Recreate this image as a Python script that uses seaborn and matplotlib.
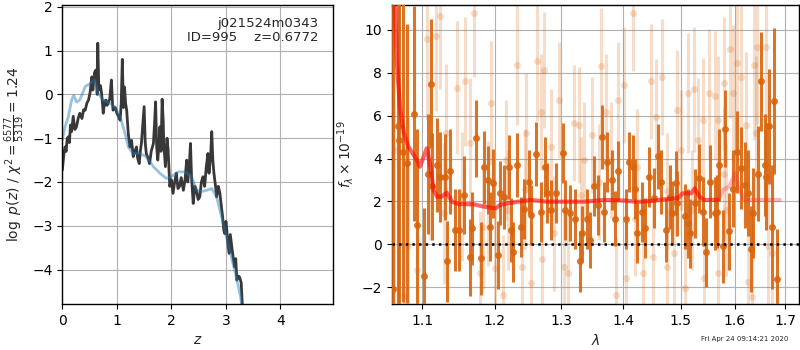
import matplotlib
matplotlib.use("Agg")
import matplotlib.pyplot as plt
from matplotlib.ticker import FixedLocator, FixedFormatter, NullLocator
import seaborn as sns

# p(z) curves
z_pz = [0.0, 0.03, 0.05, 0.07, 0.09, 0.11, 0.13, 0.15, 0.17, 0.2, 0.23, 0.26, 0.29,
        0.32, 0.36, 0.39, 0.42, 0.45, 0.48, 0.51, 0.54, 0.56, 0.59, 0.62, 0.64, 0.65,
        0.67, 0.7, 0.72, 0.74, 0.75, 0.78, 0.8, 0.82, 0.84, 0.87, 0.9, 0.92, 0.93, 0.97,
        1.0, 1.03, 1.06, 1.08, 1.1, 1.12, 1.14, 1.16, 1.18, 1.21, 1.24, 1.27, 1.3, 1.33,
        1.36, 1.38, 1.41, 1.43, 1.45, 1.48, 1.5, 1.52, 1.54, 1.57, 1.6, 1.63, 1.67, 1.69,
        1.71, 1.73, 1.75, 1.77, 1.79, 1.81, 1.83, 1.85, 1.86, 1.89, 1.92, 1.94, 1.97,
        2.0, 2.03, 2.06, 2.09, 2.12, 2.15, 2.18, 2.22, 2.25, 2.28, 2.3, 2.33, 2.35, 2.37,
        2.4, 2.43, 2.46, 2.49, 2.52, 2.55, 2.58, 2.61, 2.64, 2.67, 2.69, 2.72, 2.74,
        2.76, 2.78, 2.81, 2.83, 2.86, 2.89, 2.92, 2.94, 2.96, 2.98, 3.0, 3.01, 3.04,
        3.06, 3.08, 3.1, 3.13, 3.16, 3.18, 3.2, 3.23, 3.25, 3.28, 3.3, 3.32]
logp_pz = [-1.73, -1.35, -1.2, -1.3, -1.0, -0.97, -1.1, -0.7, -0.85, -0.5, -0.8, -0.74,
           -0.55, -0.43, -0.55, -0.35, -0.36, -0.2, -0.13, 0.05, 0.4, 0.1, 0.5, 0.56,
           0.0, 1.17, 0.1, 0.2, 0.02, -0.25, -0.43, -0.15, -0.13, -0.25, -0.2, -0.1,
           0.33, -0.2, -0.36, -0.3, -0.43, -0.5, -0.59, -0.2, 0.8, -0.3, 0.17, -0.2,
           -0.36, -0.9, -1.2, -1.05, -1.42, -1.3, -1.2, -1.45, -1.58, -1.3, -1.12, -0.6,
           -0.28, -1.1, -1.35, -1.45, -1.58, -1.3, -1.12, -0.7, -0.17, -1.2, -1.5, -1.2,
           -0.74, -1.3, -0.11, -0.6, -1.12, -1.65, -1.0, -1.27, -2.1, -1.95, -2.26, -2.0,
           -1.8, -2.15, -2.1, -1.9, -2.19, -1.95, -1.5, -2.0, -1.6, -1.12, -1.9, -2.49,
           -2.1, -2.19, -2.4, -2.34, -2.0, -1.88, -2.1, -1.65, -1.35, -1.8, -1.4, -0.85,
           -1.5, -1.8, -2.1, -2.34, -2.1, -2.26, -2.6, -2.8, -3.1, -3.18, -2.9, -3.02,
           -3.45, -3.63, -3.2, -3.4, -3.7, -3.94, -3.75, -4.24, -4.15, -4.17, -4.3, -4.8,
           -5.5]

z_tpl = [0.0, 0.05, 0.11, 0.17, 0.21, 0.26, 0.32, 0.42, 0.51, 0.59, 0.66, 0.75, 0.87,
         0.96, 1.06, 1.15, 1.21, 1.3, 1.42, 1.54, 1.67, 1.79, 1.91, 2.0, 2.12, 2.25,
         2.37, 2.46, 2.55, 2.64, 2.74, 2.83, 2.92, 3.01, 3.1, 3.19, 3.27, 3.32]
logp_tpl = [-1.04, -0.74, -0.51, -0.13, -0.02, -0.17, -0.13, 0.18, 0.25, 0.33, 0.02,
            -0.13, -0.2, -0.28, -0.51, -0.89, -1.2, -1.35, -1.35, -1.42, -1.65, -1.8,
            -1.92, -1.88, -1.77, -1.77, -1.88, -2.19, -2.22, -2.19, -2.15, -2.34, -2.8,
            -3.25, -3.71, -4.17, -4.63, -5.2]

# spectrum, strong points
wave_a = [1.062, 1.068, 1.07, 1.075, 1.08, 1.089, 1.093, 1.103, 1.108, 1.112, 1.113,
          1.12, 1.124, 1.131, 1.133, 1.138, 1.144, 1.149, 1.156, 1.165, 1.168, 1.173,
          1.18, 1.184, 1.19, 1.193, 1.198, 1.204, 1.207, 1.213, 1.22, 1.223, 1.226,
          1.232, 1.238, 1.243, 1.25, 1.254, 1.261, 1.269, 1.274, 1.278, 1.284, 1.291,
          1.302, 1.306, 1.313, 1.321, 1.329, 1.332, 1.341, 1.345, 1.351, 1.359, 1.364,
          1.368, 1.373, 1.382, 1.386, 1.391, 1.404, 1.41, 1.416, 1.42, 1.424, 1.432,
          1.437, 1.444, 1.453, 1.46, 1.464, 1.473, 1.481, 1.485, 1.491, 1.494, 1.507,
          1.513, 1.516, 1.525, 1.534, 1.54, 1.546, 1.553, 1.562, 1.567, 1.571, 1.578,
          1.582, 1.59, 1.596, 1.605, 1.613, 1.62, 1.626, 1.631, 1.635, 1.645, 1.651,
          1.659, 1.662, 1.668, 1.673, 1.678, 1.684]
flux_a = [-2.1, 5.5, 4.87, 4.3, 3.78, 6.1, 0.9, -1.5, 3.3, 7.5, 2.7, 3.7, 3.15, 3.15,
          -0.8, 3.4, 0.67, 0.67, 2.3, -0.6, 0.75, 4.95, -0.65, 3.6, 3.0, 0.82, 2.85,
          -0.5, 2.4, 2.22, 3.6, 0.67, -0.37, 3.7, 0.82, 1.65, 2.92, 1.37, 4.2, 1.52,
          3.6, 2.4, 1.6, 2.4, 4.25, 1.6, 1.45, 1.2, -0.8, 0.51, 1.2, 0.2, 2.7, 1.84,
          5.0, 1.52, 3.86, 3.0, 1.2, 3.4, 1.2, 3.86, 3.6, 2.6, 0.51, 1.52, 0.75, 3.15,
          2.15, 4.1, 2.92, 0.67, 2.22, 1.45, 2.85, 1.91, 1.3, 0.98, 0.51, 1.91, 3.08,
          1.52, -0.37, 2.92, 1.45, 1.52, 3.7, -0.1, 5.4, 0.6, 2.6, 4.3, 3.55, 2.77,
          2.38, -0.23, 1.45, 3.3, 7.6, 3.7, 3.15, 5.5, 0.82, 6.7, -1.6]
err_a = [14.0, 9.0, 8.0, 7.0, 6.5, 5.0, 4.5, 3.2, 2.8, 3.0, 2.5, 2.2, 2.1, 2.0, 1.9,
         2.0, 1.9, 1.9, 1.8, 1.8, 1.7, 1.8, 1.7, 1.7, 1.6, 1.6, 1.6, 1.6, 1.5, 1.5,
         1.5, 1.5, 1.4, 1.5, 1.4, 1.4, 1.5, 1.4, 1.5, 1.4, 1.4, 1.4, 1.4, 1.4, 1.4,
         1.4, 1.3, 1.4, 1.4, 1.3, 1.4, 1.3, 1.4, 1.4, 1.5, 1.4, 1.4, 1.4, 1.3, 1.4,
         1.4, 1.4, 1.5, 1.4, 1.4, 1.4, 1.4, 1.4, 1.4, 1.5, 1.5, 1.5, 1.5, 1.5, 1.5,
         1.5, 1.5, 1.6, 1.6, 1.6, 1.6, 1.6, 1.6, 1.7, 1.7, 1.7, 1.7, 1.7, 1.8, 1.8,
         1.8, 1.9, 1.9, 2.0, 2.0, 2.0, 2.1, 2.2, 2.3, 2.4, 2.5, 2.7, 2.9, 3.4, 2.3]

# spectrum, faint points
wave_b = [1.064, 1.076, 1.082, 1.093, 1.106, 1.11, 1.118, 1.124, 1.129, 1.132, 1.147,
          1.154, 1.158, 1.165, 1.171, 1.179, 1.183, 1.19, 1.195, 1.201, 1.212, 1.216,
          1.219, 1.232, 1.24, 1.245, 1.246, 1.253, 1.262, 1.268, 1.27, 1.273, 1.283,
          1.289, 1.296, 1.304, 1.31, 1.32, 1.328, 1.33, 1.335, 1.348, 1.36, 1.363,
          1.371, 1.38, 1.388, 1.392, 1.401, 1.405, 1.416, 1.42, 1.424, 1.433, 1.447,
          1.45, 1.456, 1.467, 1.475, 1.476, 1.488, 1.493, 1.5, 1.508, 1.513, 1.52,
          1.524, 1.531, 1.54, 1.543, 1.551, 1.562, 1.568, 1.569, 1.579, 1.58, 1.584,
          1.592, 1.597, 1.605, 1.612, 1.622, 1.626, 1.633, 1.638, 1.641, 1.643, 1.662,
          1.665, 1.673]
flux_b = [4.4, -2.4, -0.1, -1.2, 9.6, 3.8, 9.7, 10.65, 1.45, 5.2, 7.3, 2.22, 7.6,
          4.75, 10.8, -1.35, 0.82, 1.9, 6.6, -1.12, -2.36, 3.93, 1.6, 8.37, -1.04,
          2.6, 5.18, -1.82, 8.55, 6.19, -0.7, 8.13, 4.56, 0.51, 6.73, -1.04, -1.35,
          5.65, 5.57, 2.3, 3.93, 5.1, 2.9, 8.32, 6.19, 3.93, -2.36, 6.73, 7.43, -1.59,
          10.8, 1.2, 3.62, -1.35, 7.6, -0.6, 5.96, 7.82, 2.5, -1.04, -0.42, 6.27, 4.4,
          -2.05, 7.04, 1.6, 7.23, 4.87, 5.8, -1.59, 7.04, 6.94, 5.8, -1.35, 7.51, 3.3,
          1.6, 9.1, 7.04, 8.45, 7.82, 5.57, -1.74, -2.44, 8.37, 5.18, 9.2, 9.22, -0.1,
          -0.42]
err_b = [9.0, 7.0, 6.0, 5.0, 3.8, 3.6, 3.5, 3.4, 3.3, 3.2, 3.1, 3.0, 3.0, 3.0, 3.0,
         2.9, 2.9, 2.9, 2.9, 2.9, 2.8, 2.8, 2.8, 2.8, 2.8, 2.8, 2.8, 2.8, 2.8, 2.7,
         2.7, 2.7, 2.7, 2.7, 2.7, 2.7, 2.7, 2.7, 2.7, 2.7, 2.7, 2.7, 2.7, 2.7, 2.7,
         2.7, 2.7, 2.7, 2.7, 2.7, 2.7, 2.7, 2.7, 2.7, 2.7, 2.7, 2.7, 2.7, 2.7, 2.7,
         2.8, 2.8, 2.8, 2.8, 2.8, 2.8, 2.9, 2.9, 2.9, 2.9, 3.0, 3.0, 3.0, 3.0, 3.1,
         3.1, 3.1, 3.2, 3.2, 3.3, 3.3, 3.4, 3.4, 3.5, 3.5, 3.6, 3.6, 3.7, 3.7, 3.8]

# best-fit model
wave_m = [1.063, 1.067, 1.071, 1.076, 1.082, 1.093, 1.097, 1.102, 1.106, 1.111, 1.115,
          1.12, 1.126, 1.133, 1.14, 1.149, 1.17, 1.184, 1.201, 1.208, 1.223, 1.253,
          1.278, 1.304, 1.336, 1.369, 1.402, 1.425, 1.447, 1.471, 1.495, 1.503, 1.519,
          1.525, 1.534, 1.543, 1.568, 1.578, 1.59, 1.601, 1.607, 1.619, 1.659, 1.689]
flux_m = [12.5, 8.6, 6.4, 5.2, 4.55, 3.93, 3.62, 4.09, 4.48, 3.62, 2.54, 2.22, 2.22,
          2.41, 1.99, 1.88, 1.87, 1.76, 1.68, 1.84, 1.94, 2.07, 1.99, 1.99, 1.99, 2.07,
          2.04, 1.98, 2.02, 2.1, 2.15, 2.38, 2.38, 2.61, 2.22, 2.07, 2.07, 2.54, 2.69,
          3.31, 2.69, 2.07, 2.07, 2.07]
n_model_red = 37  # the part past ~1.57 um is drawn paler

xtick_vals = [1.1, 1.2, 1.3, 1.4, 1.5, 1.6, 1.7]
xtick_text = ["1.1", "1.2", "1.3", "1.4", "1.5", "1.6", "1.7"]

sns.set_style("ticks", {"axes.grid": True, "grid.color": "#b0b0b0",
                        "axes.edgecolor": "black", "xtick.color": "black",
                        "ytick.color": "black"})
plt.rcParams["font.family"] = ["DejaVu Sans"]
plt.rcParams["font.size"] = 10

fig = plt.figure(figsize=(8, 3.5), dpi=100)
ax1 = fig.add_axes([0.0779, 0.131, 0.3388, 0.8557])
ax2 = fig.add_axes([0.4896, 0.131, 0.5095, 0.8557])

# --- p(z)
sns.lineplot(x=z_pz, y=logp_pz, ax=ax1, color="0.22", lw=2, sort=False, estimator=None)
sns.lineplot(x=z_tpl, y=logp_tpl, ax=ax1, color="tab:blue", alpha=0.45, lw=2,
             sort=False, estimator=None)
ax1.set_xlim(0, 4.97)
ax1.set_ylim(-4.79, 2.05)
ax1.set_xticks([0, 1, 2, 3, 4])
ax1.set_yticks([-4, -3, -2, -1, 0, 1, 2])
ax1.set_xlabel(r"$z$")
ax1.set_ylabel(r"$\log\ p(z)$ / $\chi^2=\frac{6577}{5319}=1.24$")
ax1.text(0.945, 0.96, "j021524m0343\nID=995    z=0.6772", transform=ax1.transAxes,
         ha="right", va="top", fontsize=9.5, linespacing=1.1)

# --- spectrum
orange = "#d9650e"
ax2.errorbar(wave_b, flux_b, yerr=err_b, fmt="o", color=orange, alpha=0.22, ms=5,
             elinewidth=2.2, mec="none", zorder=2)
ax2.errorbar(wave_a, flux_a, yerr=err_a, fmt="o", color=orange, alpha=0.9, ms=5,
             elinewidth=2.2, mec="none", zorder=3)
sns.lineplot(x=wave_m[:n_model_red], y=flux_m[:n_model_red], ax=ax2, color="red",
             alpha=0.6, lw=3, sort=False, estimator=None, zorder=4)
sns.lineplot(x=wave_m[n_model_red - 1:], y=flux_m[n_model_red - 1:], ax=ax2,
             color="#ff3030", alpha=0.35, lw=3, sort=False, estimator=None, zorder=4)
ax2.axhline(0, color="black", ls=":", lw=1.8, zorder=5)

ax2.set_xscale("log")
ax2.set_xlim(1.0605, 1.729)
ax2.set_ylim(-2.79, 11.18)
ax2.xaxis.set_major_locator(FixedLocator(xtick_vals))
ax2.xaxis.set_major_formatter(FixedFormatter(xtick_text))
ax2.xaxis.set_minor_locator(NullLocator())
ax2.set_yticks([-2, 0, 2, 4, 6, 8, 10])
ax2.set_xlabel(r"$\lambda$")
ax2.set_ylabel(r"$f_\lambda\times10^{-19}$")

for ax in (ax1, ax2):
    ax.grid(True, color="#b0b0b0", lw=0.8)
    ax.set_axisbelow(True)
    ax.tick_params(direction="out", length=3.5, width=0.8)
    for s in ax.spines.values():
        s.set_color("black")
        s.set_linewidth(1)

fig.text(0.985, 0.031, "Fri Apr 24 09:14:21 2020", ha="right", va="center", fontsize=5)

fig.savefig("out.png", dpi=100)
